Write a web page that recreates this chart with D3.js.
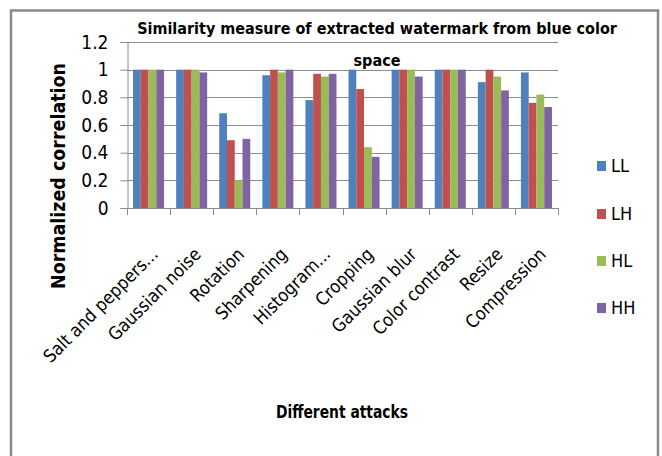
<!DOCTYPE html>
<html>
<head>
<meta charset="utf-8">
<script src="https://cdn.jsdelivr.net/npm/d3@7"></script>
<style>
  html, body { margin: 0; padding: 0; background: #fff; }
  svg { display: block; }
  text { font-family: "Liberation Sans Narrow", "DejaVu Sans Condensed", "Open Sans", sans-serif; fill: #000; }
</style>
</head>
<body>
<svg id="chart" width="662" height="456"></svg>
<script>
// Attack types along the x axis
const categories = ["Salt and peppers...", "Gaussian noise", "Rotation", "Sharpening", "Histogram...",
  "Cropping", "Gaussian blur", "Color contrast", "Resize", "Compression"];

// Sub-band series names
const seriesNames = ["LL", "LH", "HL", "HH"];

// Normalized correlation per sub-band
const LL = [1.00, 1.00, 0.685, 0.96, 0.78, 1.00, 1.00, 1.00, 0.91, 0.98];
const LH = [1.00, 1.00, 0.49, 1.00, 0.97, 0.86, 1.00, 1.00, 1.00, 0.76];
const HL = [1.00, 1.00, 0.20, 0.98, 0.95, 0.44, 1.00, 1.00, 0.95, 0.82];
const HH = [1.00, 0.98, 0.50, 1.00, 0.97, 0.37, 0.95, 1.00, 0.85, 0.73];

const yTicks = [0, 0.2, 0.4, 0.6, 0.8, 1, 1.2];
const yTickLabels = ["0", "0.2", "0.4", "0.6", "0.8", "1", "1.2"];

const colors = ["#4F81BD", "#C0504D", "#9BBB59", "#8064A2"];
const seriesValues = [LL, LH, HL, HH];

const svg = d3.select("#chart");

// Outer frame
svg.append("rect")
  .attr("x", 11).attr("y", 10.5).attr("width", 647).attr("height", 470)
  .attr("fill", "none").attr("stroke", "#8a8a8a").attr("stroke-width", 2.5);

const plot = { left: 127, right: 558, top: 42, bottom: 208 };

const x0 = d3.scaleBand().domain(categories).range([plot.left, plot.right]).paddingInner(0).paddingOuter(0);
const bw = x0.bandwidth();
const x1 = d3.scaleBand().domain(seriesNames).range([bw * 0.14, bw * 0.86]).padding(0);
const y = d3.scaleLinear().domain([0, 1.2]).range([plot.bottom, plot.top]);

const gridColor = "#8c8c8c";

// Horizontal gridlines
svg.append("g")
  .selectAll("line").data(yTicks.filter(d => d > 0)).join("line")
  .attr("x1", plot.left).attr("x2", plot.right)
  .attr("y1", d => Math.round(y(d)) + 0.5).attr("y2", d => Math.round(y(d)) + 0.5)
  .attr("stroke", gridColor).attr("stroke-width", 1);

// Bars
const groups = svg.append("g").selectAll("g").data(categories).join("g")
  .attr("transform", d => `translate(${x0(d)},0)`);

groups.selectAll("rect")
  .data((d, i) => seriesNames.map((s, j) => ({ s, v: seriesValues[j][i], c: colors[j] })))
  .join("rect")
  .attr("x", d => x1(d.s))
  .attr("width", x1.bandwidth())
  .attr("y", d => y(d.v))
  .attr("height", d => y(0) - y(d.v))
  .attr("fill", d => d.c);

// Y axis
const yAxis = d3.axisLeft(y).tickValues(yTicks).tickSize(7)
  .tickFormat((d, i) => yTickLabels[i]);
const gy = svg.append("g").attr("transform", `translate(${plot.left + 0.5},0)`).call(yAxis);
gy.select(".domain").attr("stroke", gridColor);
gy.selectAll(".tick line").attr("stroke", gridColor);
gy.selectAll(".tick text").attr("x", -19).attr("font-size", 19)
  .style("font-family", "'Liberation Sans Narrow', 'DejaVu Sans Condensed', sans-serif");

// X axis with ticks on category boundaries
svg.append("line")
  .attr("x1", plot.left).attr("x2", plot.right)
  .attr("y1", plot.bottom + 0.5).attr("y2", plot.bottom + 0.5)
  .attr("stroke", gridColor);
const bounds = categories.map(c => x0(c)).concat([plot.right]);
svg.append("g").selectAll("line").data(bounds).join("line")
  .attr("x1", d => Math.round(d) + 0.5).attr("x2", d => Math.round(d) + 0.5)
  .attr("y1", plot.bottom).attr("y2", plot.bottom + 7)
  .attr("stroke", gridColor);

// Rotated category labels
svg.append("g").selectAll("text").data(categories).join("text")
  .attr("transform", d => `translate(${x0(d) + bw / 2 + 6},${251}) rotate(-45)`)
  .attr("text-anchor", "end")
  .attr("dy", "0.35em")
  .attr("font-size", 18)
  .text(d => d);

// Title (two lines)
svg.append("text")
  .attr("x", 377).attr("y", 34)
  .attr("text-anchor", "middle")
  .attr("font-size", 16)
  .attr("font-weight", "bold")
  .text("Similarity measure of extracted watermark from blue color");
svg.append("text")
  .attr("x", 377).attr("y", 66)
  .attr("text-anchor", "middle")
  .attr("font-size", 16)
  .attr("font-weight", "bold")
  .text("space");

// Axis titles
svg.append("text")
  .attr("transform", "translate(65,176) rotate(-90)")
  .attr("text-anchor", "middle")
  .attr("font-size", 19)
  .attr("font-weight", "bold")
  .attr("textLength", 226)
  .attr("lengthAdjust", "spacingAndGlyphs")
  .text("Normalized correlation");

svg.append("text")
  .attr("x", 342).attr("y", 418)
  .attr("text-anchor", "middle")
  .attr("font-size", 18)
  .attr("font-weight", "bold")
  .attr("textLength", 132)
  .attr("lengthAdjust", "spacingAndGlyphs")
  .text("Different attacks");

// Legend
const legendY = [166, 214, 261, 308];
const legend = svg.append("g").selectAll("g").data(seriesNames).join("g")
  .attr("transform", (d, i) => `translate(597,${legendY[i]})`);
legend.append("rect")
  .attr("x", 0).attr("y", -5).attr("width", 9).attr("height", 10)
  .attr("fill", (d, i) => colors[i]);
legend.append("text")
  .attr("x", 14).attr("dy", "0.35em")
  .attr("font-size", 18)
  .text(d => d);
</script>
</body>
</html>
